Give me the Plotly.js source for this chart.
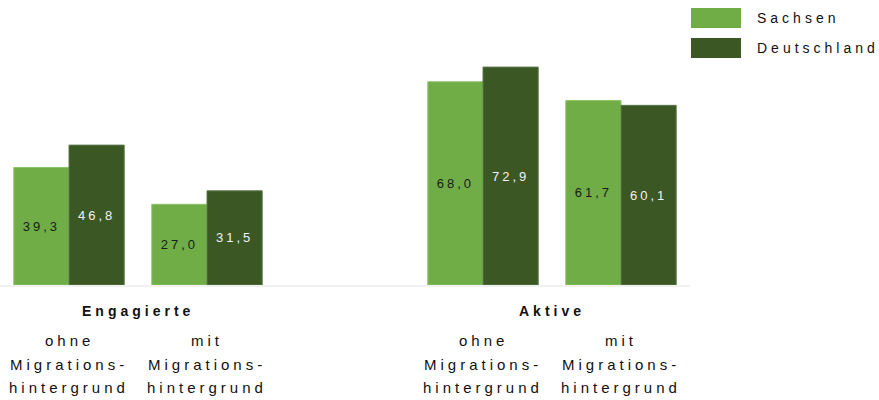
<!DOCTYPE html>
<html>
<head>
<meta charset="utf-8">
<script src="https://cdn.plot.ly/plotly-3.0.1.min.js"></script>
<style>
  html, body { margin: 0; padding: 0; background: #fff; }
  #chart { width: 879px; height: 400px; }
  .bartext { letter-spacing: 3px; }
  .annotation-text { letter-spacing: 4px; }
</style>
</head>
<body>
<div id="chart"></div>
<script>
// ---- data ----
const xPositions = [0, 1, 3, 4];
const sachsen = [39.3, 27.0, 68.0, 61.7];
const deutschland = [46.8, 31.5, 72.9, 60.1];
const seriesNames = ['Sachsen', 'Deutschland'];
const groupTitles = ['Engagierte', 'Aktive'];
const groupCenters = [0.5, 3.5];
const subLabels = [['ohne', 'Migrations-', 'hintergrund'], ['mit', 'Migrations-', 'hintergrund'],
                   ['ohne', 'Migrations-', 'hintergrund'], ['mit', 'Migrations-', 'hintergrund']];

// ---- style ----
const colSachsen = '#70ad47';
const colDeutschland = '#3a5724';
const FONT = 'Liberation Sans, Arial, Helvetica, sans-serif';

const fmt = v => v.toFixed(1).replace('.', ',');

const traces = [
  {
    type: 'bar', name: seriesNames[0], x: xPositions, y: sachsen,
    text: sachsen.map(fmt), textposition: 'inside', insidetextanchor: 'middle',
    textfont: { family: FONT, size: 13, color: '#1a1a1a' },
    marker: { color: colSachsen, line: { color: '#8cc46a', width: 1 } },
    hoverinfo: 'skip', cliponaxis: false
  },
  {
    type: 'bar', name: seriesNames[1], x: xPositions, y: deutschland,
    text: deutschland.map(fmt), textposition: 'inside', insidetextanchor: 'middle',
    textfont: { family: FONT, size: 13, color: '#f2f2f2' },
    marker: { color: colDeutschland, line: { color: '#5a7848', width: 1 } },
    hoverinfo: 'skip', cliponaxis: false
  }
];

const annotations = [];
groupTitles.forEach((t, i) => {
  annotations.push({
    x: groupCenters[i], xref: 'x', y: 0, yref: 'y', yshift: -26,
    text: '<b>' + t + '</b>', showarrow: false, xanchor: 'center', yanchor: 'middle',
    font: { family: FONT, size: 14, color: '#111' }
  });
});
const lineShifts = [-55, -79, -102];
subLabels.forEach((lines, i) => {
  lines.forEach((ln, j) => {
    annotations.push({
      x: xPositions[i], xref: 'x', y: 0, yref: 'y', yshift: lineShifts[j],
      text: ln, showarrow: false, xanchor: 'center', yanchor: 'middle',
      font: { family: FONT, size: 15, color: '#111' }
    });
  });
});

// custom legend (pixel layout converted to paper coords)
const plotL = 0, plotW = 690, plotT = 10, plotH = 275;
const px = v => (v - plotL) / plotW;
const py = v => (plotT + plotH - v) / plotH;
const legendCols = [colSachsen, colDeutschland];
const legendRows = [8, 38];
const shapes = [];
seriesNames.forEach((n, i) => {
  shapes.push({
    type: 'rect', xref: 'paper', yref: 'paper',
    x0: px(691), x1: px(741), y0: py(legendRows[i]), y1: py(legendRows[i] + 20),
    fillcolor: legendCols[i], line: { width: 0 }
  });
  annotations.push({
    xref: 'paper', yref: 'paper', x: px(755), y: py(legendRows[i] + 10),
    text: n, showarrow: false, xanchor: 'left', yanchor: 'middle',
    font: { family: FONT, size: 14, color: '#111' }
  });
});

const layout = {
  width: 879, height: 400,
  margin: { l: plotL, r: 879 - plotL - plotW, t: plotT, b: 400 - plotT - plotH, pad: 0 },
  paper_bgcolor: '#fff', plot_bgcolor: '#fff',
  barmode: 'group', bargap: 0.2, bargroupgap: 0,
  showlegend: false,
  xaxis: {
    range: [-0.5, 4.5], showticklabels: false, ticks: '', showgrid: false, zeroline: false,
    showline: true, linecolor: '#f1f1f1', linewidth: 2, fixedrange: true
  },
  yaxis: {
    range: [0, 92], showticklabels: false, ticks: '', showgrid: false, zeroline: false,
    showline: false, fixedrange: true
  },
  annotations: annotations,
  shapes: shapes
};

Plotly.newPlot('chart', traces, layout, { displayModeBar: false, staticPlot: true });
</script>
</body>
</html>
